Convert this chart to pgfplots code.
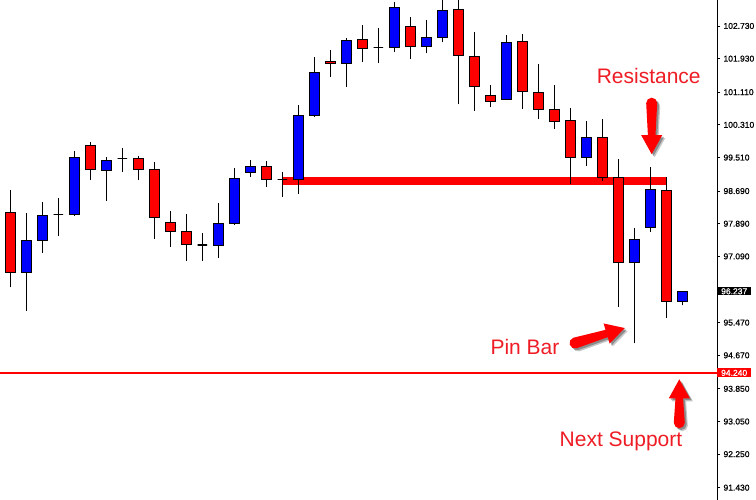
\documentclass[border=0pt]{standalone}
\usepackage{fontspec}
\setmainfont{Liberation Sans}
\newfontfamily\scalefont[FakeBold=0.8]{Liberation Sans}
\usepackage{pgfplots}
\usepackage{pgfplotstable}
\pgfplotsset{compat=1.18}

\definecolor{bull}{RGB}{0,0,255}
\definecolor{bear}{RGB}{255,0,0}
\definecolor{note}{RGB}{238,28,36}

% daily candles: index, open, high, low, close
\pgfplotstableread{
x  o      h      l      c
0  98.17  98.72  96.33  96.70
1  96.70  98.15  95.76  97.49
2  97.49  98.42  97.18  98.10
3  98.11  98.52  97.60  98.11
4  98.12  99.67  98.09  99.52
5  99.81  99.89  98.96  99.22
6  99.20  99.52  98.45  99.44
7  99.48  99.74  99.16  99.48
8  99.49  99.55  98.96  99.22
9  99.22  99.40  97.52  98.05
10 97.93  98.20  97.33  97.71
11 97.71  98.13  96.99  97.39
12 97.37  97.66  96.99  97.37
13 97.35  98.40  97.06  97.90
14 97.90  99.25  97.86  99.00
15 99.15  99.45  99.04  99.30
16 99.30  99.43  98.80  98.98
17 98.98  99.16  98.55  98.98
18 98.98  100.80 98.63  100.54
19 100.53 101.97 100.51 101.60
20 101.87 102.14 101.49 101.82
21 101.82 102.44 101.24 102.38
22 102.40 102.75 101.84 102.18
23 102.20 102.68 101.82 102.20
24 102.21 103.32 102.09 103.19
25 102.72 102.95 101.93 102.23
26 102.23 102.88 102.06 102.45
27 102.45 103.45 102.33 103.11
28 103.14 103.45 100.81 102.01
29 101.98 102.58 100.66 101.25
30 101.03 101.29 100.74 100.89
31 100.94 102.52 100.93 102.33
32 102.36 102.53 100.71 101.13
33 101.11 101.81 100.45 100.69
34 100.69 101.29 100.22 100.40
35 100.42 100.72 98.86  99.52
36 99.52  100.41 99.31  100.01
37 100.01 100.45 98.94  99.03
38 99.03  99.47  95.86  96.95
39 96.95  97.78  94.96  97.51
40 97.80  99.29  97.70  98.73
41 98.71  99.03  95.58  95.99
42 95.98  96.24  95.89  96.237
}\candles

% thick annotation arrow along +x: tail at origin, tip at #1pt
\newcommand\arrowshape[1]{%
  (0,5.5pt) -- (#1pt-19pt,3.8pt) -- (#1pt-19pt,10.5pt) -- (#1pt,0pt)
  -- (#1pt-19pt,-10.5pt) -- (#1pt-19pt,-3.8pt) -- (0,-5.5pt)
  arc[start angle=270, end angle=90, radius=5.5pt] -- cycle}
% #1,#2 tail centre, #3 direction, #4 length
\newcommand\fatarrow[4]{%
  \begin{scope}[shift={(#1pt+3pt,#2pt-3pt)}, rotate=#3]
    \fill[black, opacity=0.22] \arrowshape{#4};
  \end{scope}
  \begin{scope}[shift={(#1pt+1.8pt,#2pt-1.8pt)}, rotate=#3]
    \fill[black, opacity=0.3] \arrowshape{#4};
  \end{scope}
  \begin{scope}[shift={(#1pt,#2pt)}, rotate=#3]
    \fill[bear] \arrowshape{#4};
  \end{scope}}

\begin{document}
\begin{tikzpicture}
\begin{axis}[
  scale only axis, width=717pt, height=500pt,
  xmin=-0.644, xmax=44.169, ymin=91.129, ymax=103.366,
  hide x axis,
  axis y line=right,
  y axis line style={-, black, line width=0.8pt},
  ytick={91.43,92.25,93.05,93.85,94.67,95.47,97.09,97.89,98.69,99.51,100.31,101.11,101.93,102.73},
  tick align=outside, major tick length=3pt,
  tick style={black, line width=0.8pt},
  scaled y ticks=false,
  yticklabel style={font=\scalefont\fontsize{8.5}{10}\selectfont, text=black,
    /pgf/number format/.cd, fixed, fixed zerofill, precision=3, assume math mode=true},
  clip mode=individual,
]
% resistance zone
\addplot[bear, line width=7.7pt] coordinates {(17,98.94) (41,98.94)};

% candles: wick first, then the body on top
\pgfplotsforeachungrouped \i in {0,...,42}{%
  \pgfplotstablegetelem{\i}{x}\of\candles \let\vx\pgfplotsretval
  \pgfplotstablegetelem{\i}{o}\of\candles \let\vo\pgfplotsretval
  \pgfplotstablegetelem{\i}{h}\of\candles \let\vh\pgfplotsretval
  \pgfplotstablegetelem{\i}{l}\of\candles \let\vl\pgfplotsretval
  \pgfplotstablegetelem{\i}{c}\of\candles \let\vc\pgfplotsretval
  \pgfmathsetmacro\xa{\vx-0.3}%
  \pgfmathsetmacro\xb{\vx+0.3}%
  \ifdim\vc pt>\vo pt \def\bodycol{bull}\else\def\bodycol{bear}\fi
  \edef\candle{%
    \noexpand\addplot[black, line width=1pt] coordinates {(\vx,\vl) (\vx,\vh)};
    \noexpand\addplot[draw=black, line width=1.1pt, fill=\bodycol]
      coordinates {(\xa,\vo) (\xb,\vo) (\xb,\vc) (\xa,\vc)} -- cycle;
  }%
  \candle
}

% next support
\addplot[bear, line width=2pt] coordinates {(-0.644,94.24) (44.169,94.24)};

% price tags on the scale
\node[anchor=west, fill=black, text=white, inner xsep=4pt, inner ysep=1pt,
      font=\scalefont\fontsize{8.5}{10}\selectfont]
  at ({rel axis cs:1,0} |- {axis cs:0,96.237}) {96.237};
\node[anchor=west, fill=bear, text=white, inner xsep=4pt, inner ysep=1.5pt,
      font=\scalefont\fontsize{8.5}{10}\selectfont]
  at ({rel axis cs:1,0} |- {axis cs:0,94.24}) {94.240};
\end{axis}

% annotations
\node[anchor=base, text=note, font=\fontsize{21}{24}\selectfont] at (648.7pt,416.7pt) {Resistance};
\node[anchor=base, text=note, font=\fontsize{21}{24}\selectfont] at (525pt,145pt) {Pin Bar};
\node[anchor=base, text=note, font=\fontsize{21}{24}\selectfont] at (621pt,53pt) {Next Support};

\fatarrow{651.7}{396.8}{-90}{51}
\fatarrow{575}{157}{16.7}{52}
\fatarrow{679.3}{77.3}{90}{43.4}

\pgfresetboundingbox
\path (0,0) rectangle (756pt,500pt);
\end{tikzpicture}
\end{document}
